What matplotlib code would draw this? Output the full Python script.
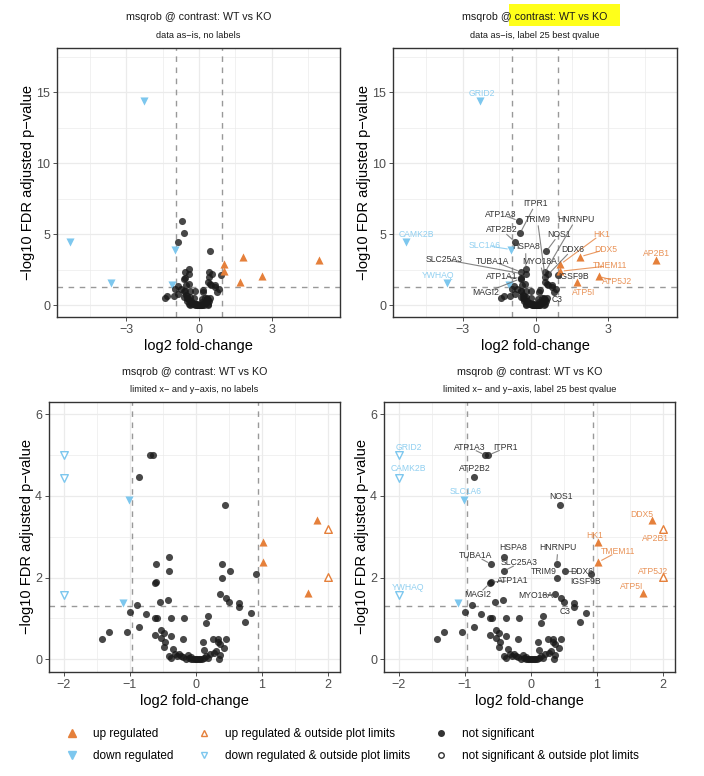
import numpy as np
import matplotlib
matplotlib.use("Agg")
from matplotlib import pyplot as plt
from matplotlib.lines import Line2D
from matplotlib.patches import Rectangle

plt.rcParams['font.family'] = ['Liberation Sans', 'DejaVu Sans']

# labelled proteins (25 best qvalue)
gene_names = ["GRID2", "CAMK2B", "YWHAQ", "SLC1A6", "ITPR1", "ATP1A3", "ATP2B2", "NOS1",
              "HSPA8", "TUBA1A", "SLC25A3", "HNRNPU", "DDX6", "TRIM9", "IGSF9B", "ATP1A1",
              "MAGI2", "MYO18A", "C3", "HK1", "TMEM11", "DDX5", "ATP5I", "ATP5J2", "AP2B1"]
gene_fc = [-2.27, -5.35, -3.63, -1.01, -0.64, -0.69, -0.86, 0.44,
           -0.40, -0.60, -0.41, 0.39, 0.52, 0.39, 0.91, -0.60,
           -0.62, 0.37, 0.66, 1.02, 1.02, 1.83, 1.69, 2.59, 4.95]
gene_q = [14.36, 4.43, 1.57, 3.91, 5.05, 5.93, 4.47, 3.78,
          2.51, 2.33, 2.16, 2.33, 2.16, 1.98, 2.10, 1.89,
          1.86, 1.59, 1.39, 2.87, 2.38, 3.40, 1.62, 2.02, 3.19]

# remaining proteins (no label)
other_fc = [0.45, 0.50, 0.66, -0.42, -0.54, -0.89, -1.10, -0.99, -0.76, -0.62, -0.59, -0.38,
            -0.18, 0.18, 0.15, 0.83, 0.75, -1.32, -1.42, -1.04, -0.86, -0.62, -0.53, -0.48,
            -0.52, -0.38, -0.46, -0.48, -0.34, -0.40, -0.38, -0.32, -0.29, -0.20, -0.23, -0.19,
            -0.12, -0.10, -0.08, -0.05, 0.00, 0.05, 0.09, 0.11, 0.13, 0.16, 0.19, 0.26,
            0.27, 0.34, 0.34, 0.37, 0.45, 0.42, 0.37, 0.35, -0.15, 0.02, -0.02, 0.07,
            -0.25, 0.22, 0.30, -0.07, 0.12]
other_q = [1.50, 1.40, 1.27, 1.46, 1.40, 1.32, 1.38, 1.16, 1.11, 1.01, 1.01, 1.00,
           1.02, 1.06, 0.90, 1.13, 0.91, 0.67, 0.50, 0.67, 0.78, 0.60, 0.73, 0.65,
           0.53, 0.58, 0.42, 0.30, 0.26, 0.07, 0.03, 0.14, 0.09, 0.50, 0.08, 0.05,
           0.10, 0.04, 0.01, 0.00, 0.00, 0.00, 0.01, 0.43, 0.22, 0.07, 0.04, 0.50,
           0.16, 0.50, 0.43, 0.37, 0.50, 0.27, 0.10, 0.01, 0.02, 0.01, 0.00, 0.00,
           0.12, 0.14, 0.20, 0.06, 0.03]

fc_lo, fc_hi = -0.96, 0.935
q_thr = 1.30

ORANGE = '#E5803B'
BLUE = '#7DC7EE'
DARK = '#1A1A1A'

# label positions (data coords) for the labelled panels
lab_full = {"GRID2": (-2.22, 14.93), "CAMK2B": (-4.92, 5.0), "YWHAQ": (-4.01, 2.11),
            "SLC1A6": (-2.08, 4.2), "ITPR1": (0.01, 7.18), "ATP1A3": (-1.44, 6.41),
            "TRIM9": (0.07, 6.06), "HNRNPU": (1.66, 6.06), "ATP2B2": (-1.40, 5.3),
            "NOS1": (0.97, 5.0), "HK1": (2.71, 5.0), "HSPA8": (-0.41, 4.1),
            "DDX6": (1.51, 3.92), "DDX5": (2.89, 3.92), "AP2B1": (4.97, 3.66),
            "SLC25A3": (-3.77, 3.22), "TUBA1A": (-1.78, 3.1), "MYO18A": (0.18, 3.08),
            "TMEM11": (3.07, 2.77), "ATP1A1": (-1.40, 2.0), "IGSF9B": (1.55, 2.0),
            "ATP5J2": (3.36, 1.67), "MAGI2": (-2.05, 0.89), "ATP5I": (1.96, 0.85),
            "C3": (0.90, 0.38)}
lab_zoom = {"GRID2": (-1.85, 5.18), "CAMK2B": (-1.85, 4.66), "SLC1A6": (-0.98, 4.11),
            "YWHAQ": (-1.85, 1.77), "ATP1A3": (-0.92, 5.18), "ITPR1": (-0.38, 5.18),
            "ATP2B2": (-0.85, 4.66), "NOS1": (0.45, 3.98), "DDX5": (1.68, 3.55),
            "AP2B1": (1.89, 2.97), "HK1": (0.96, 3.04), "TMEM11": (1.32, 2.64),
            "HSPA8": (-0.27, 2.73), "TUBA1A": (-0.83, 2.53), "HNRNPU": (0.41, 2.73),
            "SLC25A3": (-0.17, 2.36), "DDX6": (0.77, 2.16), "TRIM9": (0.20, 2.16),
            "ATP5J2": (1.85, 2.16), "IGSF9B": (0.83, 1.91), "ATP1A1": (-0.27, 1.93),
            "ATP5I": (1.52, 1.79), "MAGI2": (-0.80, 1.58), "MYO18A": (0.07, 1.57),
            "C3": (0.52, 1.18)}

W, H = 704, 776


def frac_rect(l, t, r, b):
    return [l / W, 1 - b / H, (r - l) / W, (b - t) / H]


def group(x, y):
    if y > q_thr and x > fc_hi:
        return 'up'
    if y > q_thr and x < fc_lo:
        return 'down'
    return 'ns'


COLORS = {'up': ORANGE, 'down': BLUE, 'ns': DARK}
MARKERS = {'up': '^', 'down': 'v', 'ns': 'o'}


def style_axes(ax, xlim, ylim, xticks, yticks, xminor, yminor):
    ax.set_xlim(xlim)
    ax.set_ylim(ylim)
    ax.set_xticks(xticks)
    ax.set_yticks(yticks)
    ax.set_xticks(xminor, minor=True)
    ax.set_yticks(yminor, minor=True)
    ax.grid(True, which='major', color='#EBEBEB', lw=0.9, zorder=0)
    ax.grid(True, which='minor', color='#EBEBEB', lw=0.5, zorder=0)
    ax.set_axisbelow(True)
    ax.tick_params(which='major', length=3, width=0.6, color='#333333', labelsize=9,
                   labelcolor='#4D4D4D', pad=2)
    ax.tick_params(which='minor', length=0)
    for s in ax.spines.values():
        s.set_color('#333333')
        s.set_linewidth(1.0)
    ax.axvline(fc_lo, color='#999999', ls=(0, (4, 4)), lw=1.0, zorder=1)
    ax.axvline(fc_hi, color='#999999', ls=(0, (4, 4)), lw=1.0, zorder=1)
    ax.axhline(q_thr, color='#999999', ls=(0, (4, 4)), lw=1.0, zorder=1)
    ax.set_xlabel('log2 fold-change', fontsize=10.5, labelpad=2)
    ax.set_ylabel('\u2212log10 FDR adjusted p\u2212value', fontsize=10.5, labelpad=0.5)


def draw_points(ax, limited):
    xs = list(gene_fc) + list(other_fc)
    ys = list(gene_q) + list(other_q)
    pos = []
    for x, y in zip(xs, ys):
        g = group(x, y)
        out = False
        px, py = x, y
        if limited:
            if px < -2 or px > 2 or py > 5:
                out = True
            px = min(max(px, -2), 2)
            py = min(py, 5)
        pos.append((px, py))
        c = COLORS[g]
        if g == 'ns':
            ax.scatter(px, py, s=26, marker='o', color=DARK, alpha=0.8, lw=0, zorder=3)
        elif out:
            ax.scatter(px, py, s=30, marker=MARKERS[g], facecolor='white', edgecolor=c,
                       lw=1.0, zorder=3)
        else:
            ax.scatter(px, py, s=34, marker=MARKERS[g], color=c, lw=0, zorder=3)
    return pos


def draw_labels(ax, pos, labpos):
    for i, name in enumerate(gene_names):
        px, py = pos[i]
        tx, ty = labpos[name]
        g = group(gene_fc[i], gene_q[i])
        c = '#333333' if g == 'ns' else COLORS[g]
        ax.text(tx, ty, name, fontsize=6.2, color=c, alpha=0.85 if g != 'ns' else 1,
                ha='center', va='center', zorder=5)
        # connector line from label to point
        p_disp = ax.transData.transform((px, py))
        t_disp = ax.transData.transform((tx, ty))
        d = np.hypot(*(p_disp - t_disp))
        if d > 16:
            v = (p_disp - t_disp) / d
            start = t_disp + v * 7
            end = p_disp - v * 4
            inv = ax.transData.inverted()
            s0 = inv.transform(start)
            e0 = inv.transform(end)
            lc = '#666666' if g == 'ns' else c
            ax.plot([s0[0], e0[0]], [s0[1], e0[1]], color=lc, lw=0.8, alpha=0.8, zorder=4)


fig = plt.figure(figsize=(W / 100, H / 100), dpi=100)

rects = [frac_rect(57, 48, 340, 317), frac_rect(393, 48, 677, 317),
         frac_rect(49, 402, 340, 672), frac_rect(384, 402, 675, 672)]
subtitles = ['data as\u2212is, no labels', 'data as\u2212is, label 25 best qvalue',
             'limited x\u2212 and y\u2212axis, no labels',
             'limited x\u2212 and y\u2212axis, label 25 best qvalue']
title_y = [17, 17, 372, 372]
sub_y = [35, 35, 389, 389]

# highlight behind part of the top-right title
fig.patches.append(Rectangle((509 / W, 1 - 26 / H), 111 / W, 22 / H, transform=fig.transFigure,
                             facecolor='#FFFF1A', edgecolor='none', zorder=0))

for k in range(4):
    ax = fig.add_axes(rects[k])
    limited = k >= 2
    if limited:
        style_axes(ax, (-2.22, 2.18), (-0.31, 6.3), [-2, -1, 0, 1, 2], [0, 2, 4, 6],
                   [-1.5, -0.5, 0.5, 1.5], [1, 3, 5])
    else:
        style_axes(ax, (-5.87, 5.82), (-0.84, 18.1), [-3, 0, 3], [0, 5, 10, 15],
                   [-4.5, -1.5, 1.5, 4.5], [2.5, 7.5, 12.5, 17.5])
    pos = draw_points(ax, limited)
    if k == 1:
        draw_labels(ax, pos, lab_full)
    if k == 3:
        draw_labels(ax, pos, lab_zoom)
    l, b, w, h = rects[k]
    cx = l + w / 2
    fig.text(cx, 1 - title_y[k] / H, 'msqrob @ contrast: WT vs KO', ha='center', va='center',
             fontsize=7.7, color='#1A1A1A')
    fig.text(cx, 1 - sub_y[k] / H, subtitles[k], ha='center', va='center', fontsize=6.6,
             color='#1A1A1A')

handles = [
    Line2D([], [], ls='none', marker='^', color=ORANGE, markersize=5.5, label='up regulated'),
    Line2D([], [], ls='none', marker='v', color=BLUE, markersize=5.5, label='down regulated'),
    Line2D([], [], ls='none', marker='^', markerfacecolor='white', markeredgecolor=ORANGE,
           markersize=5, label='up regulated & outside plot limits'),
    Line2D([], [], ls='none', marker='v', markerfacecolor='white', markeredgecolor=BLUE,
           markersize=5, label='down regulated & outside plot limits'),
    Line2D([], [], ls='none', marker='o', color='#333333', markersize=4,
           label='not significant'),
    Line2D([], [], ls='none', marker='o', markerfacecolor='white', markeredgecolor='#333333',
           markersize=4, label='not significant & outside plot limits'),
]
fig.legend(handles=handles, ncol=3, frameon=False, fontsize=8.5, loc='center',
           bbox_to_anchor=(0.5, 1 - 745 / H), handletextpad=1.2, columnspacing=2.0,
           labelspacing=0.9, handlelength=1.2)

fig.savefig('out.png', dpi=100)
